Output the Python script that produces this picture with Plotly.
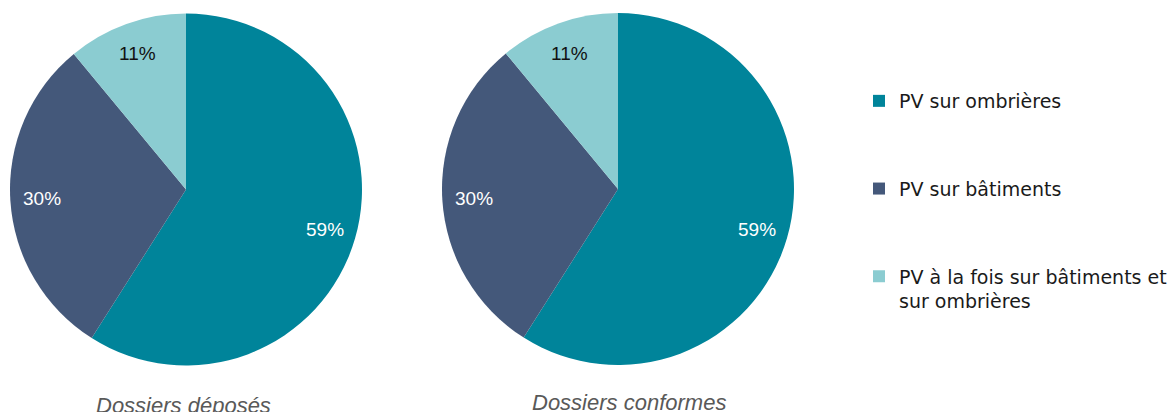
import math
import plotly.graph_objects as go

categories = ["PV sur ombrières", "PV sur bâtiments", "PV à la fois sur bâtiments et<br>sur ombrières"]
deposes = [59, 30, 11]
conformes = [59, 30, 11]
titles = ["Dossiers déposés", "Dossiers conformes"]
colors = ["#00849A", "#44587A", "#8BCCD1"]
text_colors = ["white", "white", "#111111"]

FONT = "Liberation Sans"
OFF = 8  # page body margin
W, H = 1176 - OFF, 412 - OFF

def fx(px):
    return (px - OFF) / W

def fy(py):
    return 1 - (py - OFF) / H

fig = go.Figure()
pies = [(deposes, 10, 362, 13, 366), (conformes, 442, 794, 12, 366)]
for vals, x0, x1, y0, y1 in pies:
    fig.add_trace(go.Pie(
        labels=categories, values=vals, sort=False, direction="clockwise", rotation=0,
        marker=dict(colors=colors, line=dict(width=0)),
        textposition="none",
        domain=dict(x=[fx(x0), fx(x1)], y=[fy(y1), fy(y0)]),
        showlegend=False, hoverinfo="label+percent",
    ))
    # percentage labels placed at slice mid-angles
    cx, cy = (x0 + x1) / 2, (y0 + y1) / 2
    R = min(x1 - x0, y1 - y0) / 2
    total = sum(vals)
    cum = 0
    for v, tc in zip(vals, text_colors):
        mid = (cum + v / 2) / total * 2 * math.pi
        cum += v
        r = 0.82 * R
        px = cx + r * math.sin(mid)
        py = cy - r * math.cos(mid)
        fig.add_annotation(text=f"{round(100 * v / total)}%", x=fx(px), y=fy(py),
                           xref="paper", yref="paper", showarrow=False,
                           xanchor="center", yanchor="middle",
                           font=dict(family=FONT, size=19, color=tc))

for cat, col in zip(categories, colors):
    fig.add_trace(go.Scatter(
        x=[None], y=[None], mode="markers", name=cat, legendgroup=cat,
        marker=dict(symbol="square", size=12, color=col),
    ))

for t, cx, ty in [(titles[0], 183, 405), (titles[1], 629, 402)]:
    fig.add_annotation(text="<i>" + t + "</i>", x=fx(cx), y=fy(ty), xref="paper", yref="paper",
                       xanchor="center", yanchor="middle", showarrow=False,
                       font=dict(family=FONT, size=22, color="#595959"))

fig.update_layout(
    width=W, height=H, margin=dict(l=0, r=0, t=0, b=0),
    paper_bgcolor="white", plot_bgcolor="white",
    xaxis=dict(visible=False), yaxis=dict(visible=False),
    legend=dict(x=fx(859), y=fy(82), xanchor="left", yanchor="top",
                font=dict(family="DejaVu Sans", size=19, color="#1a1a1a"),
                tracegroupgap=60, valign="top", itemwidth=30,
                bgcolor="rgba(0,0,0,0)"),
)
fig.write_html("out.html")
